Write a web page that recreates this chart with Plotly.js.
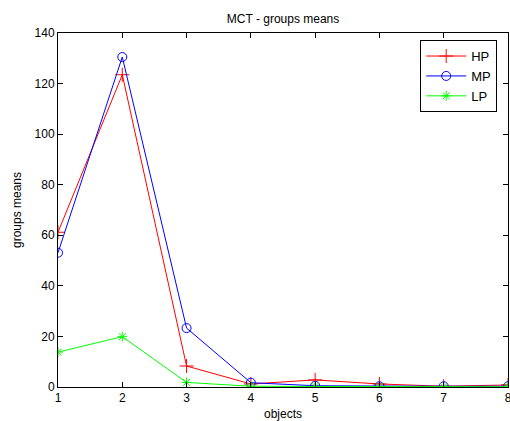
<!DOCTYPE html>
<html>
<head>
<meta charset="utf-8">
<script src="https://cdn.plot.ly/plotly-3.0.1.min.js"></script>
<style>html,body{margin:0;padding:0;background:#fff;}#chart{width:510px;height:421px;}</style>
</head>
<body>
<div id="chart"></div>
<script>
const objects = [1, 2, 3, 4, 5, 6, 7, 8];
const hpMeans = [61.2, 123.5, 8.3, 1.2, 2.8, 1.2, 0.3, 0.8];
const mpMeans = [53.1, 130.5, 23.3, 1.7, 0.5, 0.3, 0.3, 0.3];
const lpMeans = [13.8, 19.9, 1.8, 0.3, 0.2, 0.1, 0.1, 0.1];
const seriesNames = ["HP", "MP", "LP"];
const yTicks = [0, 20, 40, 60, 80, 100, 120, 140];

const font = "Liberation Sans, Arial, sans-serif";
const traces = [
  {x: objects, y: hpMeans, name: seriesNames[0], mode: "lines+markers",
   line: {color: "#ff0000", width: 1},
   marker: {symbol: "cross-thin-open", size: 10, color: "#ff0000", line: {color: "#ff0000", width: 1}}},
  {x: objects, y: mpMeans, name: seriesNames[1], mode: "lines+markers",
   line: {color: "#0000ff", width: 1},
   marker: {symbol: "circle-open", size: 9, color: "#0000ff", line: {color: "#0000ff", width: 1}}},
  {x: objects, y: lpMeans, name: seriesNames[2], mode: "lines+markers",
   line: {color: "#00ff00", width: 1},
   marker: {symbol: "asterisk-open", size: 8, color: "#00ff00", line: {color: "#00ff00", width: 1}}}
];

const layout = {
  width: 510, height: 421,
  margin: {l: 58, r: 2, t: 33, b: 34},
  paper_bgcolor: "#ffffff", plot_bgcolor: "#ffffff",
  font: {family: font, size: 12, color: "#000"},
  title: {text: "MCT - groups means", font: {family: font, size: 12, color: "#000"}, x: 0.555, xanchor: "center", y: 0.965, yanchor: "top"},
  showlegend: true,
  legend: {x: 0.976, xanchor: "right", y: 0.98, yanchor: "top", bordercolor: "#000", borderwidth: 1, bgcolor: "#fff",
           font: {family: font, size: 13, color: "#000"}, tracegroupgap: 0, itemwidth: 40},
  xaxis: {range: [1, 8], tickvals: objects, ticktext: objects.map(String), ticks: "inside", ticklen: 5, tickcolor: "#000",
          ticklabeloverflow: "allow",
          showline: true, linecolor: "#000", linewidth: 1, mirror: "ticks", showgrid: false, zeroline: false,
          tickfont: {family: font, size: 12, color: "#000"},
          title: {text: "objects", font: {family: font, size: 12, color: "#000"}, standoff: 9}},
  yaxis: {range: [0, 140], tickvals: yTicks, ticks: "inside", ticklen: 5, tickcolor: "#000",
          showline: true, linecolor: "#000", linewidth: 1, mirror: "ticks", showgrid: false, zeroline: false,
          tickfont: {family: font, size: 12, color: "#000"},
          title: {text: "groups means", font: {family: font, size: 12, color: "#000"}, standoff: 10}}
};
Plotly.newPlot("chart", traces, layout, {displayModeBar: false, staticPlot: true});
</script>
</body>
</html>
